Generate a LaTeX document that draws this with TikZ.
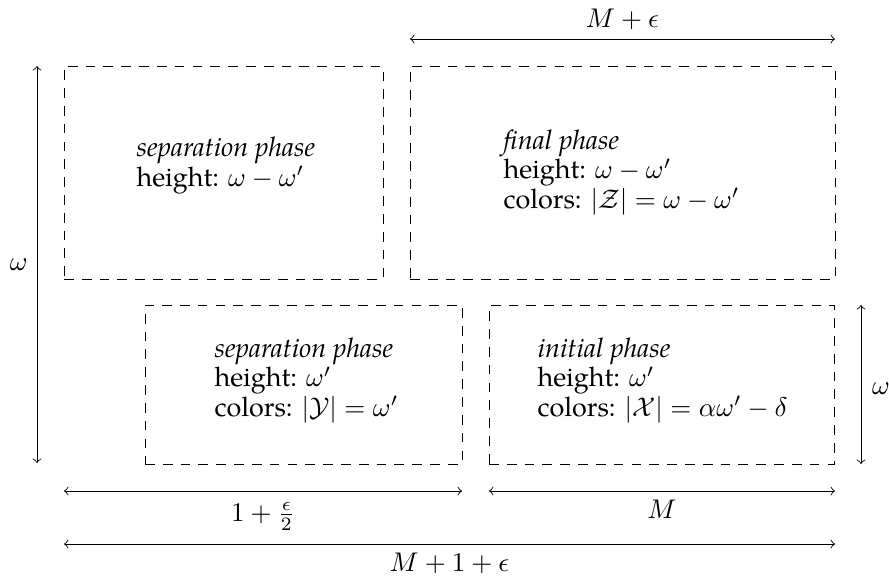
\documentclass[tikz,border=0pt]{standalone}
\usepackage[no-math]{fontspec}
\setmainfont{TeX Gyre Pagella}
\usetikzlibrary{fit}
\newcommand\phtextfont{\fontsize{10}{10.8}\selectfont\lineskiplimit -20pt\relax\lineskip 0pt\relax}
\begin{document}
\begin{tikzpicture}[x=0.3704pt,y=-0.3704pt,
  phasebox/.style={draw, line width=0.32pt, dash pattern=on 3.6pt off 3pt, inner sep=0pt},
  phasetext/.style={align=left, inner sep=0pt, anchor=base west, font=\phtextfont},
  dim/.style={<->, line width=0.32pt}]
\useasboundingbox (0,0) rectangle (889,577);
% boxes
\node[phasebox, fit={(64,66) (383,279)}] (tl) {};
\node[phasebox, fit={(410,66) (835,279)}] (tr) {};
\node[phasebox, fit={(145,305) (462,464)}] (bl) {};
\node[phasebox, fit={(489,305) (834,464)}] (br) {};
% texts (anchored at the baseline of the last line)
\node[phasetext] (tlt) at (136,186) {\textit{separation phase}\\height: $\omega-\omega'$};
\node[phasetext] (trt) at (503,208) {\textit{final phase}\\height: $\omega-\omega'$\\colors: $|\mathcal{Z}|=\omega-\omega'$};
\node[phasetext] (blt) at (214,416) {\textit{separation phase}\\height: $\omega'$\\colors: $|\mathcal{Y}|=\omega'$};
\node[phasetext] (brt) at (537,416) {\textit{initial phase}\\height: $\omega'$\\colors: $|\mathcal{X}|=\alpha\omega'-\delta$};
% dimension coordinates
\coordinate (t1) at (410,39); \coordinate (t2) at (835,39);
\coordinate (l1) at (37,66); \coordinate (l2) at (37,463);
\coordinate (r1) at (861,305); \coordinate (r2) at (861,464);
\coordinate (a1) at (64,491); \coordinate (a2) at (462,491);
\coordinate (b1) at (489,491); \coordinate (b2) at (835,491);
\coordinate (c1) at (64,544); \coordinate (c2) at (835,544);
% dimension arrows
\draw[dim] (t1) -- node[above] (tlab) {$M+\epsilon$} (t2);
\draw[dim] (l1) -- node[left] (llab) {$\omega$} (l2);
\draw[dim] (r1) -- node[right, inner sep=4pt] (rlab) {$\omega'$} (r2);
\draw[dim] (a1) -- node[below, inner sep=4pt] (alab) {$1+\frac{\epsilon}{2}$} (a2);
\draw[dim] (b1) -- node[below] (blab) {$M$} (b2);
\draw[dim] (c1) -- node[below] (clab) {$M+1+\epsilon$} (c2);
\end{tikzpicture}
\end{document}
